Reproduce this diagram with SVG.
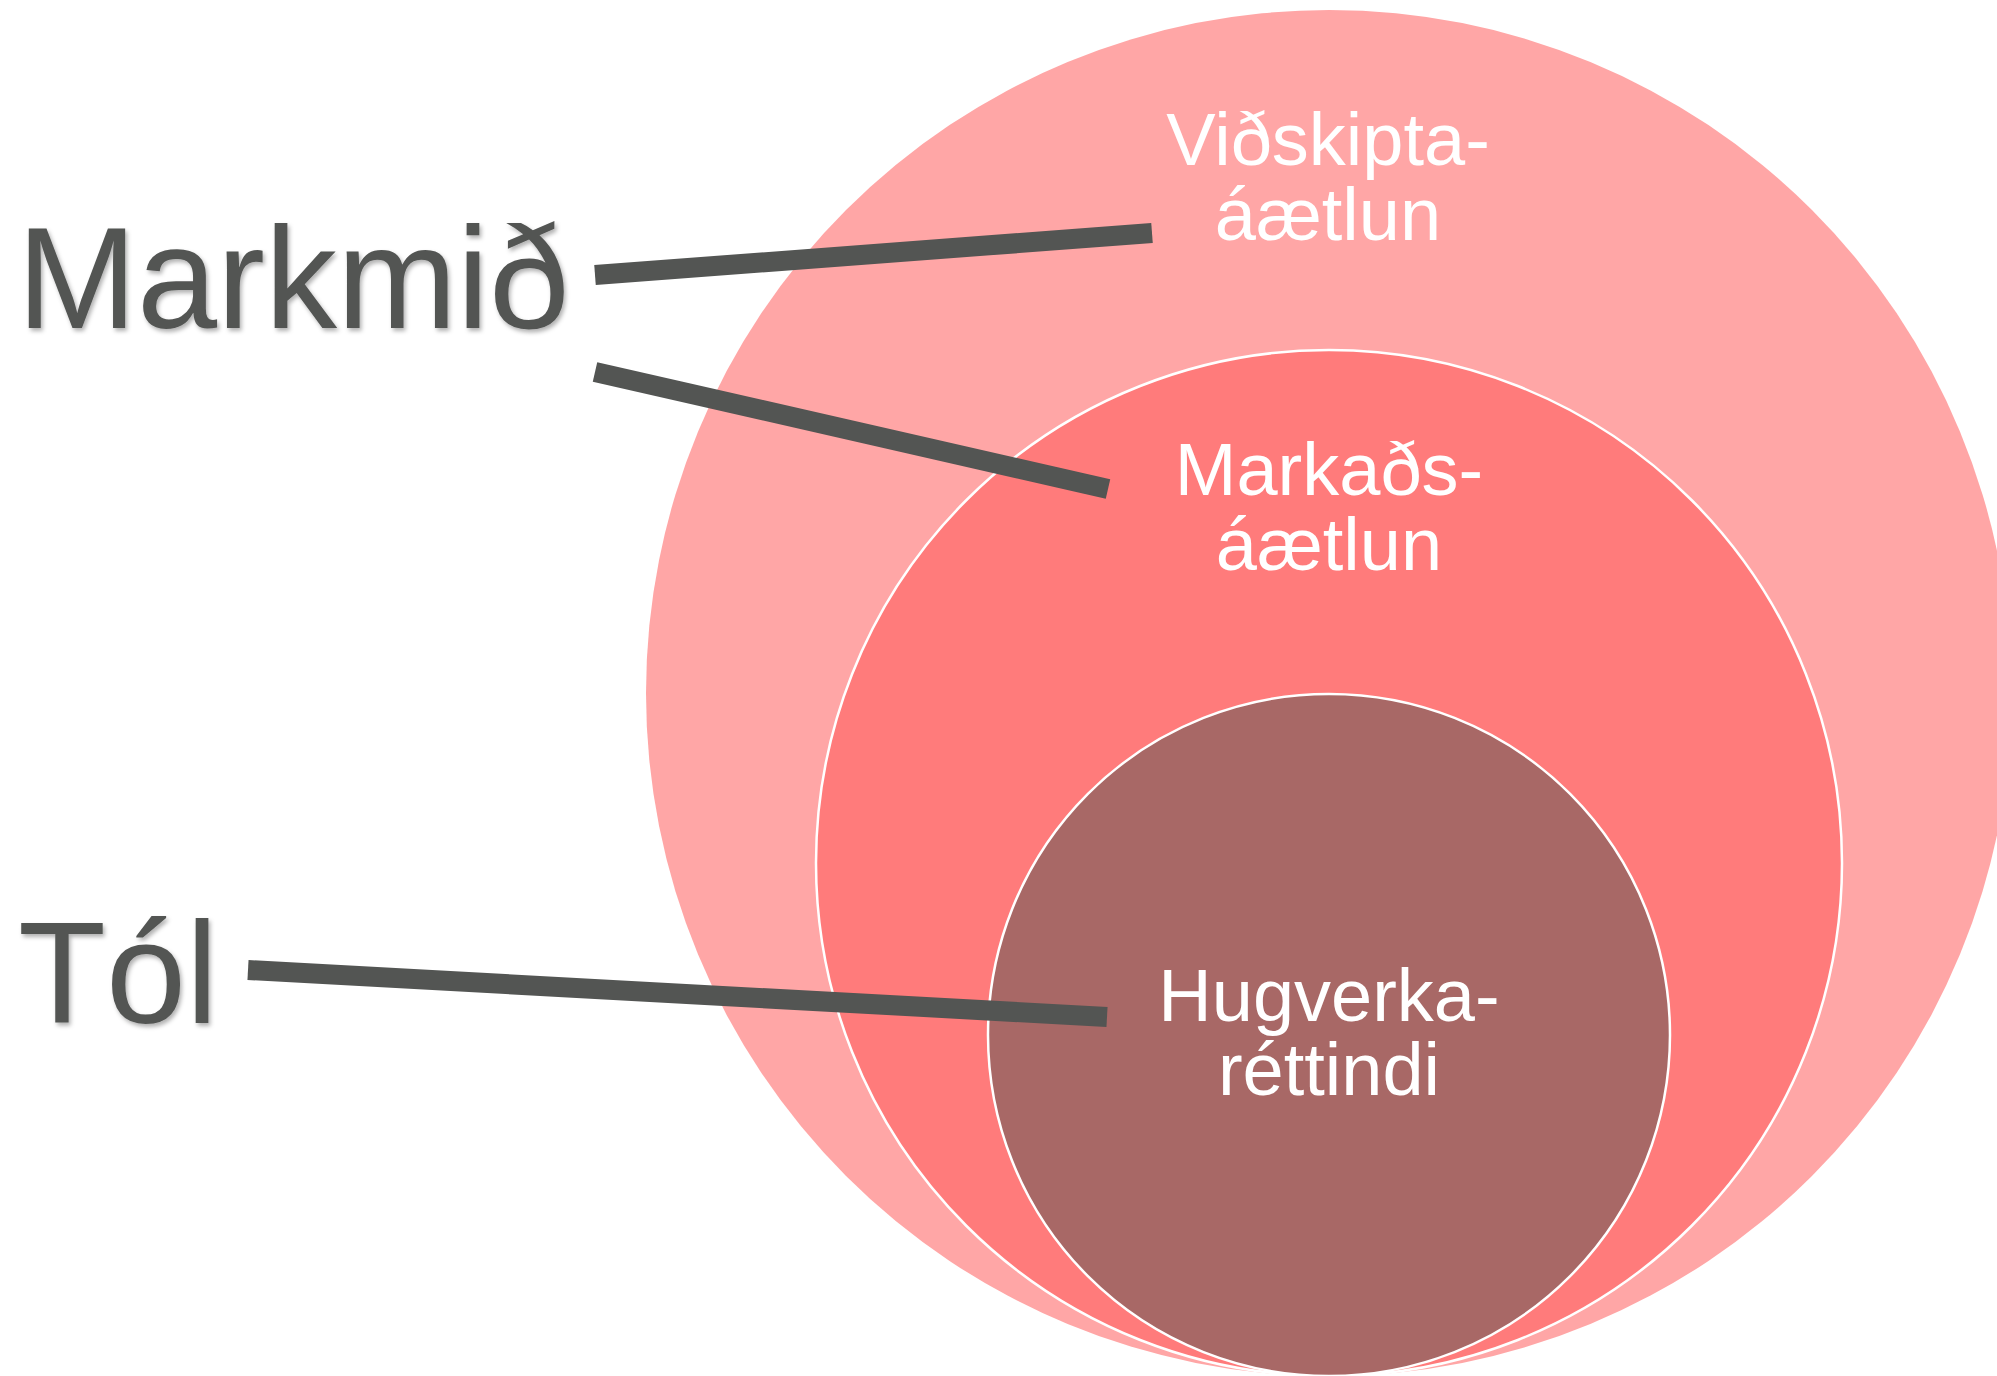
<svg xmlns="http://www.w3.org/2000/svg" width="1997" height="1376" viewBox="0 0 1997 1376">
<defs>
<style>
.lbl{font-family:"Liberation Sans",Arial,sans-serif;font-size:144px;fill:#535553}
.in{font-family:"Liberation Sans",Arial,sans-serif;font-size:74px;fill:#ffffff;text-anchor:middle}
.conn{stroke:#535553;stroke-width:20;fill:none}
</style>
<filter id="sh" x="-10%" y="-10%" width="120%" height="130%">
<feDropShadow dx="2" dy="3" stdDeviation="2" flood-color="#000" flood-opacity="0.3"/>
</filter>
</defs>
<rect width="1997" height="1376" fill="#ffffff"/>
<g id="outer">
<circle cx="1329" cy="693" r="683" fill="#FFA6A6"/>
<text class="in" x="1328" y="165">Viðskipta-</text>
<text class="in" x="1328" y="240">áætlun</text>
</g>
<g id="middle">
<circle cx="1329" cy="863" r="513" fill="#FF7B7B" stroke="#ffffff" stroke-width="2.5"/>
<text class="in" x="1329" y="495">Markaðs-</text>
<text class="in" x="1329" y="570">áætlun</text>
</g>
<g id="inner">
<circle cx="1329" cy="1035" r="341" fill="#A86866" stroke="#ffffff" stroke-width="2.5"/>
<text class="in" x="1329" y="1021">Hugverka-</text>
<text class="in" x="1329" y="1095">réttindi</text>
</g>
<g id="markmid">
<text class="lbl" x="17" y="328" filter="url(#sh)">Markmið</text>
</g>
<g id="tol">
<text class="lbl" x="18" y="1023" filter="url(#sh)">Tól</text>
</g>
<g id="connectors">
<line class="conn" x1="595" y1="275" x2="1152" y2="233"/>
<line class="conn" x1="595" y1="372" x2="1108" y2="489"/>
<line class="conn" x1="248" y1="970" x2="1107" y2="1017"/>
</g>
</svg>
